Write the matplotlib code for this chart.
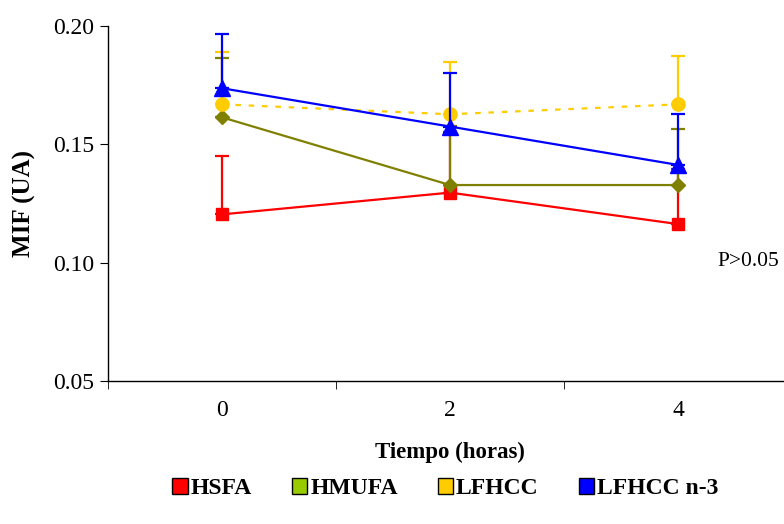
import numpy as np
import matplotlib
matplotlib.use("Agg")
import matplotlib.pyplot as plt
from matplotlib.patches import Patch

plt.rcParams['font.family'] = ['Liberation Serif', 'DejaVu Serif']

# data
tiempo = ['0', '2', '4']
hsfa = [0.1204, 0.1296, 0.1163]
hsfa_err = [0.0248, 0.0255, 0.0233]
hmufa = [0.1614, 0.1328, 0.1328]
hmufa_err = [0.0252, 0.0250, 0.0236]
lfhcc = [0.1669, 0.1627, 0.1669]
lfhcc_err = [0.0222, 0.0222, 0.0206]
lfhcc_n3 = [0.1737, 0.1575, 0.1413]
lfhcc_n3_err = [0.0229, 0.0225, 0.0217]

x = np.arange(len(tiempo))

fig = plt.figure(figsize=(7.84, 5.24), dpi=100)
ax = fig.add_axes([0.1378, 0.2729, 0.8724, 0.6775])

series = [
    (hsfa, hsfa_err, '#FF0000', 's', 8.5, '-'),
    (hmufa, hmufa_err, '#808000', 'D', 7.5, '-'),
    (lfhcc, lfhcc_err, '#FFCC00', 'o', 9.5, (0, (2.5, 3.5))),
    (lfhcc_n3, lfhcc_n3_err, '#0000FF', '^', 11, '-'),
]
for i, (y, e, c, m, ms, ls) in enumerate(series):
    ax.errorbar(x, y, yerr=[np.zeros(len(e)), e], color=c, marker=m,
                markersize=ms, linestyle=ls, linewidth=1.6, elinewidth=1.6,
                capsize=5, capthick=1.6, zorder=2 + i)

ax.set_xlim(-0.5, 2.5)
ax.set_ylim(0.05, 0.20)
ax.set_yticks([0.05, 0.10, 0.15, 0.20])
ax.set_yticklabels(['0.05', '0.10', '0.15', '0.20'])
ax.set_xticks(x)
ax.set_xticklabels(tiempo)
ax.set_xticks([-0.5, 0.5, 1.5, 2.5], minor=True)
ax.tick_params(axis='x', which='major', length=0, pad=14, labelsize=17)
ax.tick_params(axis='x', which='minor', length=6, direction='out')
ax.tick_params(axis='y', length=6, direction='out', pad=4, labelsize=17)

for s in ['top', 'right']:
    ax.spines[s].set_visible(False)
for s in ['left', 'bottom']:
    ax.spines[s].set_linewidth(1.0)

ax.set_ylabel('MIF (UA)', fontsize=18, fontweight='bold', labelpad=12)
ax.set_xlabel('Tiempo (horas)', fontsize=16.5, fontweight='bold', labelpad=15)

ax.text(0.994, 0.5, 'P>0.05', transform=fig.transFigure, fontsize=15.5,
        va='center', ha='right')

handles = [
    Patch(facecolor='#FF0000', edgecolor='black', label='HSFA'),
    Patch(facecolor='#99CC00', edgecolor='black', label='HMUFA'),
    Patch(facecolor='#FFCC00', edgecolor='black', label='LFHCC'),
    Patch(facecolor='#0000FF', edgecolor='black', label='LFHCC n-3'),
]
fig.legend(handles=handles, loc='center', bbox_to_anchor=(0.568, 0.068),
           ncol=4, frameon=False, handlelength=0.65, handleheight=0.65,
           handletextpad=0.12, columnspacing=1.7,
           prop={'size': 17, 'weight': 'bold'})

fig.savefig('out.png', dpi=100)
